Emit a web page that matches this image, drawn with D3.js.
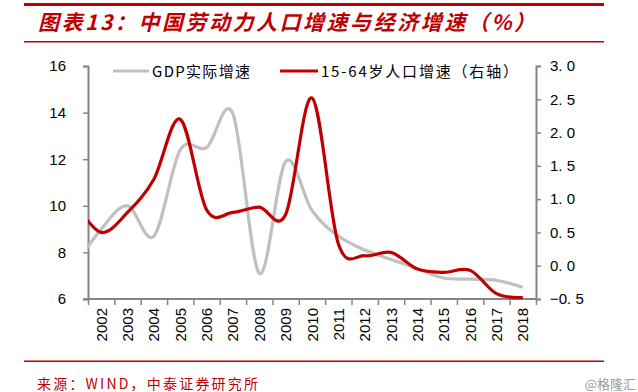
<!DOCTYPE html>
<html><head><meta charset="utf-8">
<script src="https://cdn.jsdelivr.net/npm/d3@7"></script>
<style>
html,body{margin:0;padding:0;background:#fff;}
svg{display:block;}
</style></head>
<body>
<svg id="chart" width="638" height="392"></svg>
<script>
// ---- data ----
const years = [2001,2002,2003,2004,2005,2006,2007,2008,2009,2010,2011,2012,2013,2014,2015,2016,2017,2018];
const gdpGrowth = [7.4,9.0,10.0,8.7,12.4,12.5,13.95,7.1,11.9,9.8,8.7,8.1,7.7,7.3,6.9,6.85,6.8,6.5];
const popGrowth = [0.95,0.5,0.8,1.3,2.2,0.84,0.8,0.88,0.77,2.52,0.33,0.15,0.2,-0.05,-0.1,-0.07,-0.42,-0.48];
const xLabels = ["2002","2003","2004","2005","2006","2007","2008","2009","2010","2011","2012","2013","2014","2015","2016","2017","2018"];
const leftTicks = [6,8,10,12,14,16];
const rightTicks = [-0.5,0,0.5,1,1.5,2,2.5,3];
const seriesNames = ["GDP实际增速","15-64岁人口增速（右轴）"];
const titleText = "图表13：中国劳动力人口增速与经济增速（%）";
const sourceText = "来源：WIND，中泰证券研究所";
const watermark = "@格隆汇";

const red = "#c00000", gray = "#c0c0c0", axisCol = "#858585";
const svg = d3.select("#chart");
const L = 88, R = 536, T = 66, B = 299;

const x = d3.scaleLinear().domain([2001.5, 2018.5]).range([L, R]);
const yL = d3.scaleLinear().domain([6,16]).range([B, T]);
const yR = d3.scaleLinear().domain([-0.5,3]).range([B, T]);

// header
svg.append("rect").attr("x",24).attr("y",3).attr("width",580).attr("height",3).attr("fill",red);
svg.append("text").attr("x",38).attr("y",30)
  .attr("font-family","'Noto Sans CJK SC', sans-serif").attr("font-size",21).attr("font-weight","bold")
  .attr("font-style","italic").attr("fill",red).attr("textLength",497).attr("lengthAdjust","spacing")
  .text(titleText);
svg.append("rect").attr("x",24).attr("y",41).attr("width",580).attr("height",1.5).attr("fill",red);

// footer
svg.append("rect").attr("x",24).attr("y",360.5).attr("width",580).attr("height",1.5).attr("fill",red);
svg.append("text").attr("x",37).attr("y",389)
  .attr("font-family","'Noto Sans CJK SC', sans-serif").attr("font-size",14)
  .attr("fill",red).attr("textLength",221).attr("lengthAdjust","spacing").text(sourceText);
svg.append("text").attr("x",636).attr("y",389).attr("text-anchor","end")
  .attr("font-family","'Noto Sans CJK SC', sans-serif").attr("font-size",13)
  .attr("fill","#999").text(watermark);

// clip
svg.append("clipPath").attr("id","plotclip").append("rect")
  .attr("x",L).attr("y",T-20).attr("width",R-L).attr("height",B-T+40);

// axes
const fontAx = "'Liberation Sans', Arial, sans-serif";
const gL = svg.append("g").attr("transform",`translate(${L},0)`)
  .call(d3.axisLeft(yL).tickValues(leftTicks).tickSize(5).tickPadding(17).tickFormat(d3.format("d")));
const gR = svg.append("g").attr("transform",`translate(${R},0)`)
  .call(d3.axisRight(yR).tickValues(rightTicks).tickSize(5).tickPadding(9)
    .tickFormat(d => (d < 0 ? "−" : "") + Math.abs(d).toFixed(1).replace(".", ". ")));
const boundaries = d3.range(2001.5, 2019, 1);
const gB = svg.append("g").attr("transform",`translate(0,${B})`)
  .call(d3.axisBottom(x).tickValues(boundaries).tickSize(6).tickFormat(""));
[gL,gR,gB].forEach(g => {
  g.select(".domain").attr("stroke",axisCol).attr("stroke-width",2);
  g.selectAll(".tick line").attr("stroke",axisCol).attr("stroke-width",1.5);
  g.selectAll("text").attr("font-family",fontAx).attr("font-size",15).attr("fill","#000");
});
gB.select(".domain").attr("d",`M${L-5},0H${R}`);

// x labels
svg.append("g").selectAll("text").data(xLabels).join("text")
  .attr("transform", d => `translate(${x(+d)+5.5},308) rotate(-90)`)
  .attr("text-anchor","end").attr("font-family",fontAx).attr("font-size",15).attr("fill","#000")
  .text(d => d);

// lines
const plot = svg.append("g").attr("clip-path","url(#plotclip)");
const lineL = d3.line().x((d,i)=>x(years[i])).y(d=>yL(d)).curve(d3.curveCardinal.tension(0));
const lineR = d3.line().x((d,i)=>x(years[i])).y(d=>yR(d)).curve(d3.curveCardinal.tension(0));
plot.append("path").attr("d",lineL(gdpGrowth)).attr("fill","none").attr("stroke",gray).attr("stroke-width",3.2);
plot.append("path").attr("d",lineR(popGrowth)).attr("fill","none").attr("stroke",red).attr("stroke-width",3.2);

// legend
const leg = svg.append("g");
leg.append("line").attr("x1",113).attr("x2",149).attr("y1",71).attr("y2",71).attr("stroke",gray).attr("stroke-width",3.2);
leg.append("text").attr("x",152).attr("y",76.5).attr("font-family","'Noto Sans CJK SC', sans-serif")
  .attr("font-size",15).attr("fill","#000").attr("textLength",98).attr("lengthAdjust","spacing").text(seriesNames[0]);
leg.append("line").attr("x1",280).attr("x2",318).attr("y1",71).attr("y2",71).attr("stroke",red).attr("stroke-width",3.2);
leg.append("text").attr("x",321).attr("y",76.5).attr("font-family","'Noto Sans CJK SC', sans-serif")
  .attr("font-size",15).attr("fill","#000").attr("textLength",197).attr("lengthAdjust","spacing").text(seriesNames[1]);
</script>
</body></html>
